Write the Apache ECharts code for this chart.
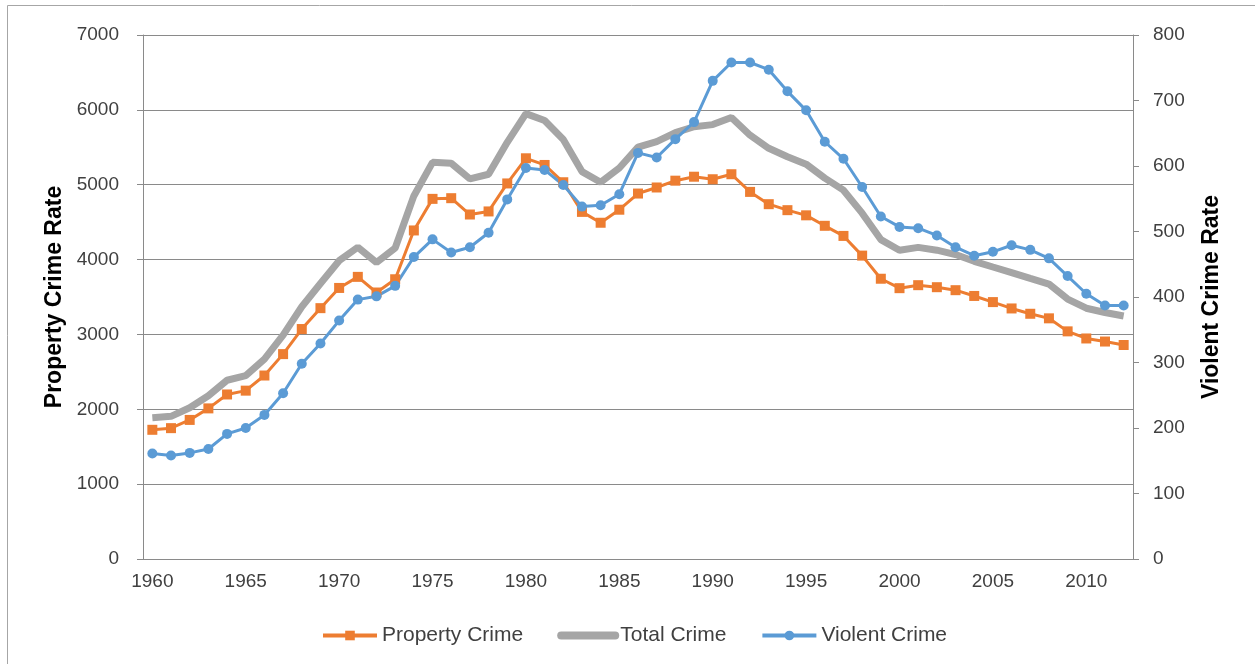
<!DOCTYPE html>
<html>
<head>
<meta charset="utf-8">
<script src="https://cdn.jsdelivr.net/npm/echarts@6/dist/echarts.min.js"></script>
<style>
  html, body { margin: 0; padding: 0; background: #fff; }
  #main { width: 1255px; height: 664px; }
</style>
</head>
<body>
<div id="main"></div>
<script>
// years on the category axis
var years = [
  '1960','1961','1962','1963','1964','1965','1966','1967','1968','1969',
  '1970','1971','1972','1973','1974','1975','1976','1977','1978','1979',
  '1980','1981','1982','1983','1984','1985','1986','1987','1988','1989',
  '1990','1991','1992','1993','1994','1995','1996','1997','1998','1999',
  '2000','2001','2002','2003','2004','2005','2006','2007','2008','2009',
  '2010','2011','2012'
];

// rates per 100,000 (left axis)
var propertyCrime = [
  1726, 1748, 1858, 2012, 2198, 2249, 2451, 2737, 3072, 3351,
  3621, 3769, 3560, 3737, 4389, 4811, 4820, 4602, 4643, 5017,
  5353, 5264, 5033, 4637, 4492, 4666, 4882, 4963, 5054, 5107,
  5073, 5140, 4904, 4740, 4660, 4591, 4451, 4316, 4053, 3744,
  3618, 3658, 3631, 3591, 3514, 3432, 3347, 3276, 3215, 3041,
  2946, 2905, 2859
];

var totalCrime = [
  1887, 1906, 2020, 2180, 2388, 2449, 2671, 2990, 3370, 3680,
  3985, 4165, 3961, 4154, 4850, 5299, 5287, 5078, 5140, 5566,
  5950, 5858, 5604, 5175, 5032, 5223, 5502, 5576, 5695, 5774,
  5803, 5898, 5661, 5487, 5374, 5275, 5088, 4927, 4620, 4267,
  4125, 4163, 4125, 4067, 3977, 3901, 3826, 3748, 3673, 3473,
  3350, 3293, 3246
];

// right axis
var violentCrime = [
  161, 158, 162, 168, 191, 200, 220, 253, 298, 329,
  364, 396, 401, 417, 461, 488, 468, 476, 498, 549,
  597, 594, 571, 538, 540, 557, 620, 613, 641, 667,
  730, 758, 758, 747, 714, 685, 637, 611, 568, 523,
  507, 505, 494, 476, 463, 469, 479, 472, 459, 432,
  405, 387, 387
];

var leftTicks = [0, 7000, 1000];
var rightTicks = [0, 800, 100];

var myChart = echarts.init(document.getElementById('main'));

var font = 'Liberation Sans, Arial, sans-serif';
var axisGray = '#8a8a8a';

var option = {
  animation: false,
  textStyle: { fontFamily: font },
  graphic: [
    {
      type: 'rect',
      shape: { x: 7.5, y: 5.5, width: 1400, height: 800 },
      style: { fill: 'none', stroke: '#a6a6a6', lineWidth: 1 },
      silent: true
    }
  ],
  grid: {
    left: 143,
    right: 122,
    top: 35,
    bottom: 105
  },
  legend: {
    top: 620,
    left: 316,
    itemWidth: 54,
    itemHeight: 12,
    itemGap: 34,
    textStyle: { fontSize: 21, color: '#404040', fontFamily: font },
    data: [
      { name: 'Property Crime', lineStyle: { width: 4 } },
      { name: 'Total Crime', itemStyle: { opacity: 0 }, lineStyle: { width: 8, cap: 'round' } },
      { name: 'Violent Crime', lineStyle: { width: 4 } }
    ]
  },
  xAxis: {
    type: 'category',
    data: years,
    boundaryGap: true,
    axisLine: { lineStyle: { color: axisGray, width: 1 } },
    axisTick: { interval: 1, length: 6, lineStyle: { color: axisGray } },
    axisLabel: { interval: 4, margin: 13, fontSize: 19, color: '#404040' },
    splitLine: { show: false }
  },
  yAxis: [
    {
      type: 'value',
      min: leftTicks[0],
      max: leftTicks[1],
      interval: leftTicks[2],
      name: 'Property Crime Rate',
      nameLocation: 'middle',
      nameRotate: 90,
      nameGap: 70,
      nameTextStyle: { fontSize: 23, fontWeight: 'bold', color: '#000' },
      axisLine: { show: true, lineStyle: { color: axisGray } },
      axisTick: { show: true, length: 6, lineStyle: { color: axisGray } },
      axisLabel: { margin: 24, fontSize: 19, color: '#404040', formatter: function (v) { return String(v); } },
      splitLine: { show: true, lineStyle: { color: axisGray, width: 1 } }
    },
    {
      type: 'value',
      position: 'right',
      min: rightTicks[0],
      max: rightTicks[1],
      interval: rightTicks[2],
      name: 'Violent Crime Rate',
      nameLocation: 'middle',
      nameRotate: 90,
      nameGap: 67,
      nameTextStyle: { fontSize: 23, fontWeight: 'bold', color: '#000' },
      axisLine: { show: true, lineStyle: { color: axisGray } },
      axisTick: { show: true, length: 6, lineStyle: { color: axisGray } },
      axisLabel: { margin: 20, fontSize: 19, color: '#404040', formatter: function (v) { return String(v); } },
      splitLine: { show: false }
    }
  ],
  series: [
    {
      name: 'Property Crime',
      type: 'line',
      yAxisIndex: 0,
      data: propertyCrime,
      symbol: 'rect',
      symbolSize: 10,
      itemStyle: { color: '#ED7D31' },
      lineStyle: { color: '#ED7D31', width: 3 }
    },
    {
      name: 'Total Crime',
      type: 'line',
      yAxisIndex: 0,
      data: totalCrime,
      symbol: 'none',
      itemStyle: { color: '#A5A5A5' },
      lineStyle: { color: '#A5A5A5', width: 7 }
    },
    {
      name: 'Violent Crime',
      type: 'line',
      yAxisIndex: 1,
      data: violentCrime,
      symbol: 'circle',
      symbolSize: 10,
      itemStyle: { color: '#5B9BD5' },
      lineStyle: { color: '#5B9BD5', width: 3 }
    }
  ]
};

myChart.setOption(option);
</script>
</body>
</html>
